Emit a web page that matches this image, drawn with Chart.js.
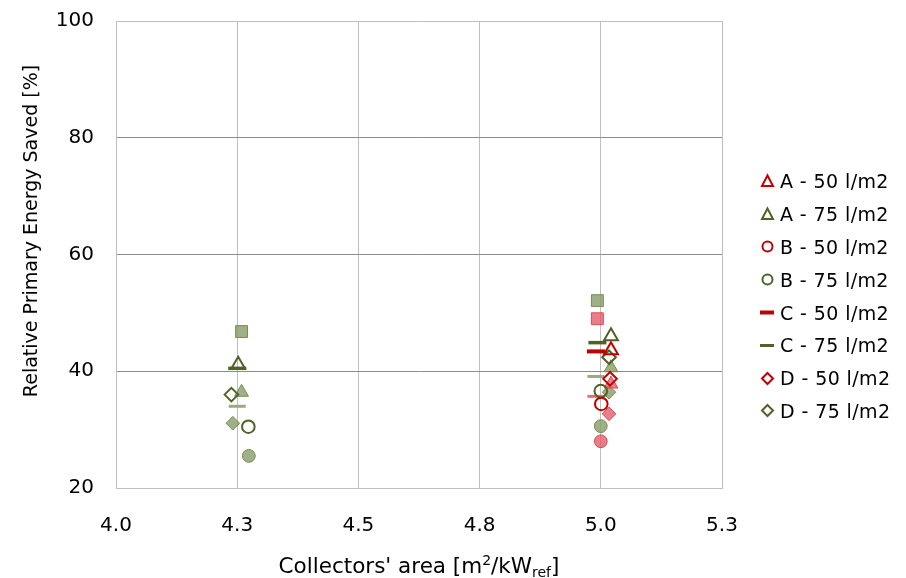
<!DOCTYPE html>
<html><head><meta charset="utf-8">
<script src="https://cdn.jsdelivr.net/npm/chart.js@4"></script>
<style>
html,body{margin:0;padding:0;background:#fff;}
#wrap{position:relative;width:906px;height:578px;}
#legend{position:absolute;left:759px;top:165px;font-family:'DejaVu Sans',sans-serif;font-size:19px;letter-spacing:0.4px;color:#000;}
.item{height:32.8px;display:flex;align-items:center;white-space:nowrap;}
.item svg{width:17px;height:17px;margin-right:4px;flex:none;}
</style></head>
<body><div id="wrap"><canvas id="c" width="906" height="578"></canvas><div id="legend"></div></div>
<script>
// ---- data ----
const xTickLabels = ['4.0', '4.3', '4.5', '4.8', '5.0', '5.3'];
const xTickValues = [4.0, 4.25, 4.5, 4.75, 5.0, 5.25];
const yTickValues = [20, 40, 60, 80, 100];

const seriesLabels = ['A - 50 l/m2', 'A - 75 l/m2', 'B - 50 l/m2', 'B - 75 l/m2',
                      'C - 50 l/m2', 'C - 75 l/m2', 'D - 50 l/m2', 'D - 75 l/m2'];

// open markers (shown in legend): [x, y]
const A50 = [[5.021, 43.6]];
const A75 = [[4.252, 41.1], [5.021, 46.0]];
const B50 = [[5.001, 34.4]];
const B75 = [[4.273, 30.5], [5.000, 36.6]];
const C50 = [[4.990, 43.4]];
const C75 = [[4.250, 40.5], [4.993, 44.9]];
const D50 = [[5.019, 38.7]];
const D75 = [[4.238, 36.0], [5.017, 42.4]];

// filled markers (not in legend): [x, y]
const Sq50 = [[4.993, 49.0]];
const Sq75 = [[4.259, 46.8], [4.993, 52.1]];
const A50f = [[5.021, 37.8]];
const A75f = [[4.259, 36.4], [5.021, 40.6]];
const B50f = [[5.000, 28.0]];
const B75f = [[4.274, 25.5], [5.000, 30.6]];
const C50f = [[4.990, 35.7]];
const C75f = [[4.250, 34.0], [4.990, 39.1]];
const D50f = [[5.017, 32.7]];
const D75f = [[4.241, 31.1], [5.017, 36.4]];

// ---- styles ----
const RED = '#C00000', GREEN = '#4F6228';
const RED_F = 'rgba(228,90,102,0.78)', RED_FB = 'rgba(212,60,75,0.85)';
const GREEN_F = 'rgba(138,158,108,0.82)', GREEN_FB = '#77904F';
const RED_L = '#E2707A', GREEN_L = '#99AB80';

const toPts = a => a.map(p => ({x: p[0], y: p[1]}));
function openDs(label, data, color, style, r, bw) {
  return {label, data: toPts(data), pointStyle: style, pointRadius: r, pointHoverRadius: r,
    borderColor: color, backgroundColor: 'rgba(255,255,255,0)', pointBorderWidth: bw, borderWidth: bw, showLine: false};
}
function fillDs(label, data, fill, border, style, r, bw) {
  return {label, data: toPts(data), pointStyle: style, pointRadius: r, pointHoverRadius: r,
    borderColor: border, backgroundColor: fill, pointBorderWidth: bw, borderWidth: bw, showLine: false};
}

const datasets = [
  openDs(seriesLabels[0], A50, RED, 'triangle', 8, 2),
  openDs(seriesLabels[1], A75, GREEN, 'triangle', 8, 2),
  openDs(seriesLabels[2], B50, RED, 'circle', 6.3, 2),
  openDs(seriesLabels[3], B75, GREEN, 'circle', 6.3, 2),
  openDs(seriesLabels[4], C50, RED, 'line', 9, 4),
  openDs(seriesLabels[5], C75, GREEN, 'line', 9, 3.5),
  openDs(seriesLabels[6], D50, RED, 'rectRot', 6.8, 2),
  openDs(seriesLabels[7], D75, GREEN, 'rectRot', 6.8, 2),
  fillDs('Sq - 50 l/m2', Sq50, RED_F, RED_FB, 'rect', 8.4, 1),
  fillDs('Sq - 75 l/m2', Sq75, GREEN_F, GREEN_FB, 'rect', 8.4, 1),
  fillDs('A* - 50 l/m2', A50f, RED_F, RED_FB, 'triangle', 8, 1),
  fillDs('A* - 75 l/m2', A75f, GREEN_F, GREEN_FB, 'triangle', 8, 1),
  fillDs('B* - 50 l/m2', B50f, RED_F, RED_FB, 'circle', 6.4, 1),
  fillDs('B* - 75 l/m2', B75f, GREEN_F, GREEN_FB, 'circle', 6.4, 1),
  fillDs('C* - 50 l/m2', C50f, RED_L, RED_L, 'line', 8.5, 3),
  fillDs('C* - 75 l/m2', C75f, GREEN_L, GREEN_L, 'line', 8.5, 3),
  fillDs('D* - 50 l/m2', D50f, RED_F, RED_FB, 'rectRot', 6.8, 1),
  fillDs('D* - 75 l/m2', D75f, GREEN_F, GREEN_FB, 'rectRot', 6.8, 1)
];

const FONT = "'DejaVu Sans', sans-serif";

const titlesPlugin = {
  id: 'axisTitles',
  afterDraw(chart) {
    const ctx = chart.ctx;
    const ca = chart.chartArea;
    ctx.save();
    ctx.fillStyle = '#000';
    // y title
    ctx.font = '19px ' + FONT;
    ctx.textAlign = 'center';
    ctx.textBaseline = 'middle';
    ctx.translate(32, 231);
    ctx.rotate(-Math.PI / 2);
    ctx.fillText('Relative Primary Energy Saved [%]', 0, 0);
    ctx.restore();
    // x title with super/subscript
    ctx.save();
    ctx.fillStyle = '#000';
    ctx.textBaseline = 'alphabetic';
    ctx.textAlign = 'left';
    const big = '21.5px ' + FONT, small = '14px ' + FONT;
    const parts = [
      {t: "Collectors' area [m", f: big, dy: 0},
      {t: '2', f: small, dy: -8},
      {t: '/kW', f: big, dy: 0},
      {t: 'ref', f: small, dy: 4},
      {t: ']', f: big, dy: 0}
    ];
    let w = 0;
    parts.forEach(p => { ctx.font = p.f; p.w = ctx.measureText(p.t).width; w += p.w; });
    let x = (ca.left + ca.right) / 2 - w / 2;
    const base = 573;
    parts.forEach(p => { ctx.font = p.f; ctx.fillText(p.t, x, base + p.dy); x += p.w; });
    ctx.restore();
  }
};

new Chart(document.getElementById('c'), {
  type: 'scatter',
  data: {datasets},
  options: {
    responsive: false,
    animation: false,
    layout: {padding: {left: 0, top: 21, right: 184, bottom: 0}},
    plugins: {legend: {display: false}, tooltip: {enabled: false}},
    scales: {
      x: {
        type: 'linear', min: 4.0, max: 5.25,
        afterBuildTicks: s => { s.ticks = xTickValues.map(v => ({value: v})); },
        afterFit: s => { s.height = 90; s.paddingLeft = 0; s.paddingRight = 0; },
        ticks: {
          color: '#000', font: {family: FONT, size: 20}, padding: 26,
          callback: v => { const i = xTickValues.findIndex(t => Math.abs(t - v) < 1e-9); return i >= 0 ? xTickLabels[i] : ''; }
        },
        grid: {color: '#BFBFBF', lineWidth: 1, drawTicks: false},
        border: {color: '#BFBFBF', width: 1}
      },
      y: {
        type: 'linear', min: 20, max: 100,
        afterBuildTicks: s => { s.ticks = yTickValues.map(v => ({value: v})); },
        afterFit: s => { s.width = 116; s.paddingTop = 0; s.paddingBottom = 0; },
        ticks: {color: '#000', font: {family: FONT, size: 20}, padding: 22},
        grid: {
          color: c => (c.tick && (c.tick.value === 20 || c.tick.value === 100)) ? '#BFBFBF' : '#8C8C8C',
          lineWidth: 1, drawTicks: false
        },
        border: {color: '#BFBFBF', width: 1}
      }
    }
  },
  plugins: [titlesPlugin]
});

// ---- HTML legend ----
const legendStyles = [
  {c: RED, s: 'triangle'}, {c: GREEN, s: 'triangle'},
  {c: RED, s: 'circle'}, {c: GREEN, s: 'circle'},
  {c: RED, s: 'line', w: 4}, {c: GREEN, s: 'line', w: 3},
  {c: RED, s: 'diamond'}, {c: GREEN, s: 'diamond'}
];
function icon(st) {
  let inner = '';
  if (st.s === 'triangle') inner = `<polygon points="8.5,2.5 14,13 3,13" fill="none" stroke="${st.c}" stroke-width="2"/>`;
  if (st.s === 'circle') inner = `<circle cx="8.5" cy="8.5" r="5" fill="none" stroke="${st.c}" stroke-width="2"/>`;
  if (st.s === 'line') inner = `<line x1="1" y1="8.5" x2="15" y2="8.5" stroke="${st.c}" stroke-width="${st.w}"/>`;
  if (st.s === 'diamond') inner = `<polygon points="8.5,3 14,8.5 8.5,14 3,8.5" fill="none" stroke="${st.c}" stroke-width="2"/>`;
  return `<svg viewBox="0 0 17 17">${inner}</svg>`;
}
const leg = document.getElementById('legend');
seriesLabels.forEach((lab, i) => {
  const d = document.createElement('div');
  d.className = 'item';
  d.innerHTML = icon(legendStyles[i]) + '<span>' + lab + '</span>';
  leg.appendChild(d);
});
</script>
</body></html>
